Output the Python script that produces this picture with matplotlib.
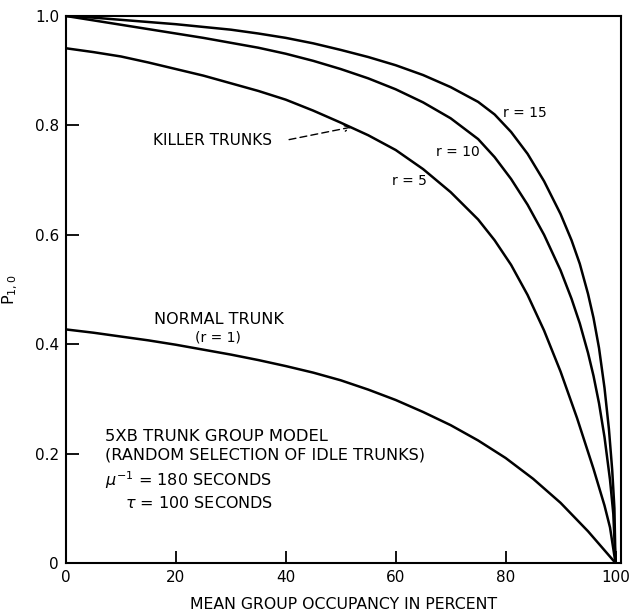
import matplotlib
matplotlib.use("Agg")
import matplotlib.pyplot as plt

plt.rcParams['font.family'] = ['DejaVu Sans']
plt.rcParams['mathtext.fontset'] = 'dejavusans'

# Read-off values: occupancy (%) and P(1,0) for each curve
x_r15 = [0, 5, 10, 15, 20, 25, 30, 35, 40, 45, 50, 55, 60, 65, 70, 75, 78, 81, 84, 87, 90, 92, 93.5,
         95, 96, 97, 98, 98.8, 99.4, 99.8, 100]
p_r15 = [1.0, 0.997, 0.993, 0.989, 0.985, 0.98, 0.975, 0.968, 0.96, 0.95, 0.938, 0.925, 0.91, 0.892,
         0.87, 0.843, 0.82, 0.788, 0.748, 0.698, 0.638, 0.59, 0.547, 0.492, 0.448, 0.393, 0.32, 0.245,
         0.17, 0.1, 0.0]

x_r10 = [0, 5, 10, 15, 20, 25, 30, 35, 40, 45, 50, 55, 60, 65, 70, 75, 78, 81, 84, 87, 90, 92, 93.5,
         95, 96, 97, 98, 99, 99.6, 100]
p_r10 = [1.0, 0.992, 0.984, 0.976, 0.968, 0.96, 0.951, 0.942, 0.931, 0.918, 0.903, 0.886, 0.866,
         0.842, 0.813, 0.775, 0.742, 0.702, 0.655, 0.6, 0.535, 0.483, 0.438, 0.384, 0.342, 0.292, 0.23,
         0.152, 0.09, 0.0]

x_r5 = [0, 5, 10, 15, 20, 25, 30, 35, 40, 45, 50, 55, 60, 65, 70, 75, 78, 81, 84, 87, 90, 93, 96,
        98, 99, 100]
p_r5 = [0.941, 0.934, 0.926, 0.915, 0.903, 0.891, 0.877, 0.863, 0.847, 0.827, 0.805, 0.782, 0.755,
        0.72, 0.678, 0.628, 0.59, 0.545, 0.49, 0.425, 0.35, 0.265, 0.172, 0.105, 0.065, 0.0]

x_r1 = [0, 5, 10, 15, 20, 25, 30, 35, 40, 45, 50, 55, 60, 65, 70, 75, 80, 85, 90, 95, 100]
p_r1 = [0.427, 0.421, 0.414, 0.407, 0.399, 0.39, 0.381, 0.371, 0.36, 0.348, 0.334, 0.317, 0.298,
        0.276, 0.252, 0.224, 0.192, 0.154, 0.11, 0.058, 0.0]

xticks = [0, 20, 40, 60, 80, 100]
yticks = [0, 0.2, 0.4, 0.6, 0.8, 1.0]
yticklabels = ["0", "0.2", "0.4", "0.6", "0.8", "1.0"]

fig = plt.figure(figsize=(6.33, 6.11), dpi=100)
ax = fig.add_axes([66/633, 1 - 563/611, (621 - 66)/633, (563 - 16)/611])

lw = 1.8
for xs, ps in [(x_r15, p_r15), (x_r10, p_r10), (x_r5, p_r5), (x_r1, p_r1)]:
    ax.plot(xs, ps, color='black', lw=lw, solid_capstyle='round', solid_joinstyle='round')

ax.set_xlim(0, 101)
ax.set_ylim(0, 1.0)
ax.set_xticks(xticks)
ax.set_xticklabels([str(v) for v in xticks])
ax.set_yticks(yticks)
ax.set_yticklabels(yticklabels)
ax.tick_params(direction='in', length=9, width=1.3, labelsize=11, colors='black', pad=5)
ax.tick_params(axis='x', pad=5)
for s in ax.spines.values():
    s.set_linewidth(1.5)

ax.set_xlabel("MEAN GROUP OCCUPANCY IN PERCENT", fontsize=11.3, labelpad=9)
ax.set_ylabel(r"P$_{1,0}$", fontsize=11.5, labelpad=11)

ax.text(15.8, 0.773, "KILLER TRUNKS", fontsize=11, va='center', ha='left')
ax.annotate("", xy=(52, 0.797), xytext=(40.6, 0.774),
            arrowprops=dict(arrowstyle='->', color='black', lw=1.0, linestyle=(0, (5, 3)),
                            shrinkA=0, shrinkB=0))
ax.text(79.6, 0.822, "r = 15", fontsize=10, va='center', ha='left')
ax.text(67.3, 0.751, "r = 10", fontsize=10, va='center', ha='left')
ax.text(59.4, 0.698, "r = 5", fontsize=10, va='center', ha='left')
ax.text(27.8, 0.445, "NORMAL TRUNK", fontsize=11.5, va='center', ha='center')
ax.text(27.7, 0.412, "(r = 1)", fontsize=10, va='center', ha='center')
ax.text(7.1, 0.231, "5XB TRUNK GROUP MODEL", fontsize=11.8, va='center', ha='left')
ax.text(7.1, 0.198, "(RANDOM SELECTION OF IDLE TRUNKS)", fontsize=11.6, va='center', ha='left')
ax.text(7.1, 0.152, r"$\mu^{-1}$ = 180 SECONDS", fontsize=11.5, va='center', ha='left')
ax.text(10.7, 0.11, r"$\tau$ = 100 SECONDS", fontsize=11.5, va='center', ha='left')

fig.savefig("out.png", dpi=100)
